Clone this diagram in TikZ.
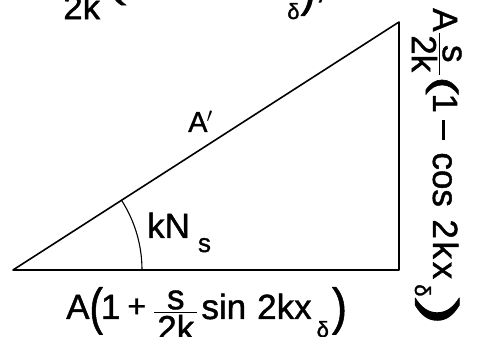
\documentclass[tikz,border=0pt]{standalone}
\usepackage{graphicx}
\usepackage{amsmath}
\usepackage{fontspec}
\setmainfont{Liberation Sans}[FakeBold=1.2]
\newcommand{\bigpar}[4]{\raisebox{#1}{\scalebox{#2}[#3]{#4}}}
\newcommand{\lowsub}[3]{\raisebox{#1}{\fontsize{#2}{#2}\selectfont #3}}
\newcommand{\fr}[3]{$\genfrac{}{}{1.4pt}{1}{\mbox{#2}}{\mbox{\hspace{#1}#3\hspace{#1}}}$}
\newcommand{\mins}[1]{\raisebox{9pt}{\rule{#1}{2.6pt}}}
\begin{document}
\begin{tikzpicture}[x=1pt,y=1pt,line cap=round,line join=round,
  edge/.style={line width=1.6pt},
  anglearc/.style={line width=1.1pt},
  biglab/.style={inner sep=0pt,font=\fontsize{35}{42}\selectfont},
  hyplab/.style={inner sep=0pt,font=\fontsize{29}{34}\selectfont}]
\useasboundingbox (0,0) rectangle (479,337);
\clip (0,0) rectangle (479,337);
\coordinate (O) at (13,67);
\coordinate (R) at (399,67);
\coordinate (T) at (399,315);
\draw[edge] (O) -- (R) -- (T) -- cycle;
\draw[anglearc] (O) ++(129,0) arc[start angle=0,end angle=32.7,radius=129];
\node[hyplab,anchor=base west] (hyp) at (188,205) {A\hspace{-1pt}$'$};
\node[biglab,anchor=base west] (ang) at (147,99)
  {kN\hspace{8pt}\lowsub{-14pt}{26}{s}};
\node[biglab,anchor=base west] (base) at (66,18)
  {A\hspace{0pt}\bigpar{-5pt}{1.15}{1.45}{(}\hspace{-2pt}1\hspace{7pt}\raisebox{2pt}{\fontsize{32}{36}\selectfont +}\hspace{7pt}\fr{3pt}{s}{2k}\hspace{3pt}sin\hspace{11pt}2kx\hspace{5pt}\lowsub{-18pt}{22}{δ}\hspace{3pt}\bigpar{-5pt}{1.3}{1.45}{)}};
\node[biglab,anchor=base west,rotate=-90] (side) at (433,329)
  {A\hspace{0pt}\fr{2.5pt}{s}{2k}\hspace{0.6pt}\bigpar{0pt}{1.6}{1}{(}\hspace{-1.7pt}1\hspace{7.5pt}\mins{20pt}\hspace{12pt}cos\hspace{12.5pt}2\hspace{2.7pt}k\hspace{2.7pt}x\hspace{5pt}\lowsub{-18pt}{22}{δ}\hspace{1pt}\bigpar{-8pt}{2.4}{1.35}{)}};
\node[biglab,anchor=base west] (top) at (36,339)
  {A\hspace{0pt}\fr{2.5pt}{s}{2k}\hspace{4pt}\bigpar{0pt}{1.6}{1}{(}\hspace{-1.7pt}1\hspace{3pt}\mins{16pt}\hspace{8pt}cos\hspace{4pt}2kx\hspace{3pt}\lowsub{-21pt}{22}{δ}\hspace{1pt}\bigpar{-8pt}{1.3}{1.35}{)},};
\end{tikzpicture}
\end{document}
